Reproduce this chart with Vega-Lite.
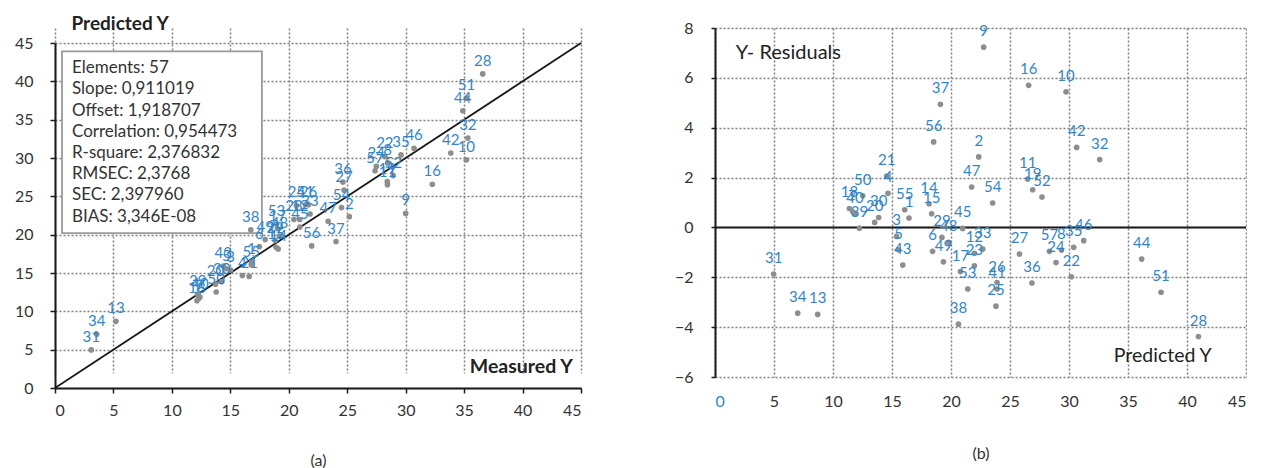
{
  "$schema": "https://vega.github.io/schema/vega-lite/v6.json",
  "background": "white",
  "padding": {"left": 0, "top": 14, "right": 0, "bottom": 0},
  "spacing": 92,
  "config": {
    "font": "Lato",
    "view": {"stroke": null},
    "axis": {
      "labelFont": "Lato",
      "labelFontSize": 16,
      "labelColor": "#333333",
      "labelOverlap": false,
      "gridColor": "#808080",
      "gridDash": [2, 2],
      "gridWidth": 1.5,
      "gridOpacity": 1,
      "domainColor": "#1a1a1a",
      "domainWidth": 2,
      "tickColor": "#1a1a1a",
      "tickWidth": 1.5,
      "titleFont": "Lato",
      "titleColor": "#222222"
    }
  },
  "datasets": {
    "elements": [
      {"id": 1, "measured": 16.82, "predicted": 16.44, "residual": 0.38},
      {"id": 2, "measured": 25.18, "predicted": 22.35, "residual": 2.83},
      {"id": 3, "measured": 15.03, "predicted": 15.39, "residual": -0.36},
      {"id": 4, "measured": 16.03, "predicted": 14.66, "residual": 1.37},
      {"id": 5, "measured": 14.66, "predicted": 15.56, "residual": -0.90},
      {"id": 6, "measured": 17.48, "predicted": 18.44, "residual": -0.96},
      {"id": 7, "measured": 12.30, "predicted": 11.67, "residual": 0.63},
      {"id": 8, "measured": 28.45, "predicted": 29.36, "residual": -0.91},
      {"id": 9, "measured": 30.00, "predicted": 22.77, "residual": 7.23},
      {"id": 10, "measured": 35.19, "predicted": 29.75, "residual": 5.44},
      {"id": 11, "measured": 28.44, "predicted": 26.50, "residual": 1.94},
      {"id": 12, "measured": 20.94, "predicted": 21.98, "residual": -1.04},
      {"id": 13, "measured": 5.21, "predicted": 8.70, "residual": -3.49},
      {"id": 14, "measured": 19.09, "predicted": 18.14, "residual": 0.95},
      {"id": 15, "measured": 18.91, "predicted": 18.36, "residual": 0.55},
      {"id": 16, "measured": 32.28, "predicted": 26.58, "residual": 5.70},
      {"id": 17, "measured": 19.03, "predicted": 20.80, "residual": -1.77},
      {"id": 18, "measured": 12.15, "predicted": 11.39, "residual": 0.76},
      {"id": 19, "measured": 28.43, "predicted": 26.92, "residual": 1.51},
      {"id": 20, "measured": 13.73, "predicted": 13.53, "residual": 0.20},
      {"id": 21, "measured": 16.61, "predicted": 14.55, "residual": 2.06},
      {"id": 22, "measured": 28.22, "predicted": 30.20, "residual": -1.98},
      {"id": 23, "measured": 20.44, "predicted": 21.98, "residual": -1.54},
      {"id": 24, "measured": 27.49, "predicted": 28.90, "residual": -1.41},
      {"id": 25, "measured": 20.65, "predicted": 23.81, "residual": -3.16},
      {"id": 26, "measured": 21.69, "predicted": 23.90, "residual": -2.21},
      {"id": 27, "measured": 24.73, "predicted": 25.80, "residual": -1.07},
      {"id": 28, "measured": 36.59, "predicted": 40.97, "residual": -4.38},
      {"id": 29, "measured": 18.83, "predicted": 19.23, "residual": -0.40},
      {"id": 30, "measured": 14.27, "predicted": 13.87, "residual": 0.40},
      {"id": 31, "measured": 3.10, "predicted": 4.97, "residual": -1.87},
      {"id": 32, "measured": 35.32, "predicted": 32.60, "residual": 2.72},
      {"id": 33, "measured": 21.82, "predicted": 22.69, "residual": -0.87},
      {"id": 34, "measured": 3.57, "predicted": 7.01, "residual": -3.44},
      {"id": 35, "measured": 29.60, "predicted": 30.40, "residual": -0.80},
      {"id": 36, "measured": 24.63, "predicted": 26.86, "residual": -2.23},
      {"id": 37, "measured": 24.04, "predicted": 19.10, "residual": 4.94},
      {"id": 38, "measured": 16.75, "predicted": 20.63, "residual": -3.88},
      {"id": 39, "measured": 12.21, "predicted": 12.24, "residual": -0.03},
      {"id": 40, "measured": 12.40, "predicted": 11.86, "residual": 0.54},
      {"id": 41, "measured": 21.43, "predicted": 23.90, "residual": -2.47},
      {"id": 42, "measured": 33.86, "predicted": 30.65, "residual": 3.21},
      {"id": 43, "measured": 14.40, "predicted": 15.91, "residual": -1.51},
      {"id": 44, "measured": 34.89, "predicted": 36.16, "residual": -1.27},
      {"id": 45, "measured": 20.95, "predicted": 20.99, "residual": -0.04},
      {"id": 46, "measured": 30.72, "predicted": 31.25, "residual": -0.53},
      {"id": 47, "measured": 23.37, "predicted": 21.75, "residual": 1.62},
      {"id": 48, "measured": 19.21, "predicted": 19.81, "residual": -0.60},
      {"id": 49, "measured": 17.98, "predicted": 19.36, "residual": -1.38},
      {"id": 50, "measured": 13.79, "predicted": 12.52, "residual": 1.27},
      {"id": 51, "measured": 35.20, "predicted": 37.80, "residual": -2.60},
      {"id": 52, "measured": 28.93, "predicted": 27.71, "residual": 1.22},
      {"id": 53, "measured": 18.95, "predicted": 21.42, "residual": -2.47},
      {"id": 54, "measured": 24.51, "predicted": 23.53, "residual": 0.98},
      {"id": 55, "measured": 16.79, "predicted": 16.08, "residual": 0.71},
      {"id": 56, "measured": 21.96, "predicted": 18.53, "residual": 3.43},
      {"id": 57, "measured": 27.38, "predicted": 28.34, "residual": -0.96}
    ]
  },
  "hconcat": [
    {
      "width": 526,
      "height": 360,
      "layer": [
        {
          "data": {"name": "elements"},
          "mark": {"type": "point", "opacity": 0},
          "encoding": {
            "x": {
              "field": "measured", "type": "quantitative",
              "scale": {"domain": [0, 45], "nice": false, "zero": false},
              "axis": {
                "values": [0, 5, 10, 15, 20, 25, 30, 35, 40, 45], "tickCount": 20, "format": "d", "labelOverlap": false,
                "title": "(a)", "titleFontSize": 16, "titleFontWeight": "normal", "titleColor": "#333333",
                "titlePadding": 34, "tickSize": 5, "labelPadding": 9, "grid": true
              }
            },
            "y": {
              "field": "predicted", "type": "quantitative",
              "scale": {"domain": [0, 45], "nice": false, "zero": false, "range": [360, 15]},
              "axis": {
                "values": [0, 5, 10, 15, 20, 25, 30, 35, 40, 45], "tickCount": 20, "format": "d", "labelOverlap": false,
                "title": "Predicted Y", "titleAngle": 0, "titleAlign": "left", "titleBaseline": "middle",
                "titleX": 16, "titleY": -4.5, "titleFontSize": 19, "titleFontWeight": "bold",
                "tickSize": 5, "labelPadding": 17, "minExtent": 55, "maxExtent": 55, "grid": true
              }
            }
          }
        },
        {
          "data": {"values": [{}]},
          "mark": {"type": "rect", "fill": "white", "stroke": "#9a9a9a", "strokeWidth": 1.8},
          "encoding": {
            "x": {"datum": 0.6, "type": "quantitative", "scale": {"domain": [0, 45], "nice": false}},
            "x2": {"datum": 17.7},
            "y": {"datum": 43.9, "type": "quantitative", "scale": {"domain": [0, 45], "nice": false, "range": [360, 15]}},
            "y2": {"datum": 20.2}
          }
        },
        {
          "data": {"values": [{}]},
          "mark": {
            "type": "text", "align": "left", "baseline": "middle", "fontSize": 17, "color": "#333333",
            "lineHeight": 21.2, "lineBreak": "\n",
            "text": "Elements: 57\nSlope: 0,911019\nOffset: 1,918707\nCorrelation: 0,954473\nR-square: 2,376832\nRMSEC: 2,3768\nSEC: 2,397960\nBIAS: 3,346E-08"
          },
          "encoding": {
            "x": {"datum": 1.45, "type": "quantitative", "scale": {"domain": [0, 45], "nice": false}},
            "y": {"datum": 41.7, "type": "quantitative", "scale": {"domain": [0, 45], "nice": false, "range": [360, 15]}}
          }
        },
        {
          "data": {"values": [{}]},
          "mark": {"type": "rule", "color": "#1a1a1a", "strokeWidth": 1.8},
          "encoding": {
            "x": {"datum": 0, "type": "quantitative", "scale": {"domain": [0, 45], "nice": false}},
            "x2": {"datum": 45},
            "y": {"datum": 0, "type": "quantitative", "scale": {"domain": [0, 45], "nice": false, "range": [360, 15]}},
            "y2": {"datum": 45}
          }
        },
        {
          "data": {"name": "elements"},
          "mark": {"type": "circle", "color": "#8e8e8e", "opacity": 1, "size": 32},
          "encoding": {
            "x": {"field": "measured", "type": "quantitative", "scale": {"domain": [0, 45], "nice": false}},
            "y": {"field": "predicted", "type": "quantitative", "scale": {"domain": [0, 45], "nice": false, "range": [360, 15]}}
          }
        },
        {
          "data": {"name": "elements"},
          "mark": {"type": "text", "color": "#3385c6", "fontSize": 15, "dy": -13, "baseline": "middle"},
          "encoding": {
            "x": {"field": "measured", "type": "quantitative", "scale": {"domain": [0, 45], "nice": false}},
            "y": {"field": "predicted", "type": "quantitative", "scale": {"domain": [0, 45], "nice": false, "range": [360, 15]}},
            "text": {"field": "id", "type": "nominal"}
          }
        },
        {
          "data": {"values": [{}]},
          "mark": {"type": "text", "text": "Measured Y", "align": "right", "baseline": "middle", "fontSize": 19.5, "fontWeight": "bold", "color": "#222222"},
          "encoding": {
            "x": {"datum": 44.3, "type": "quantitative", "scale": {"domain": [0, 45], "nice": false}},
            "y": {"datum": 2.8, "type": "quantitative", "scale": {"domain": [0, 45], "nice": false, "range": [360, 15]}}
          }
        }
      ]
    },
    {
      "width": 531,
      "height": 349,
      "layer": [
        {
          "data": {"name": "elements"},
          "mark": {"type": "point", "opacity": 0},
          "encoding": {
            "x": {
              "field": "predicted", "type": "quantitative",
              "scale": {"domain": [0, 45], "nice": false, "zero": false},
              "axis": {
                "values": [0, 5, 10, 15, 20, 25, 30, 35, 40, 45], "tickCount": 20, "format": "d", "labelOverlap": false,
                "title": "(b)", "titleFontSize": 16, "titleFontWeight": "normal", "titleColor": "#333333",
                "titlePadding": 36, "domain": false, "ticks": false, "labelPadding": 16, "grid": true,
                "labelColor": {"condition": {"test": "datum.value === 0", "value": "#3385c6"}, "value": "#333333"}
              }
            },
            "y": {
              "field": "residual", "type": "quantitative",
              "scale": {"domain": [-6, 8], "nice": false, "zero": false},
              "axis": {
                "values": [-6, -4, -2, 0, 2, 4, 6, 8], "tickCount": 20, "format": "d", "labelOverlap": false,
                "title": null, "tickSize": 4, "labelPadding": 18, "minExtent": 40, "maxExtent": 40, "grid": true
              }
            }
          }
        },
        {
          "data": {"values": [{}]},
          "mark": {"type": "rule", "color": "#1a1a1a", "strokeWidth": 2},
          "encoding": {
            "y": {"datum": 0, "type": "quantitative", "scale": {"domain": [-6, 8], "nice": false}}
          }
        },
        {
          "data": {"name": "elements"},
          "mark": {"type": "circle", "color": "#8e8e8e", "opacity": 1, "size": 32},
          "encoding": {
            "x": {"field": "predicted", "type": "quantitative", "scale": {"domain": [0, 45], "nice": false}},
            "y": {"field": "residual", "type": "quantitative", "scale": {"domain": [-6, 8], "nice": false}}
          }
        },
        {
          "data": {"name": "elements"},
          "mark": {"type": "text", "color": "#3385c6", "fontSize": 15, "dy": -16, "baseline": "middle"},
          "encoding": {
            "x": {"field": "predicted", "type": "quantitative", "scale": {"domain": [0, 45], "nice": false}},
            "y": {"field": "residual", "type": "quantitative", "scale": {"domain": [-6, 8], "nice": false}},
            "text": {"field": "id", "type": "nominal"}
          }
        },
        {
          "data": {"values": [{}]},
          "mark": {"type": "text", "text": "Y- Residuals", "align": "left", "baseline": "middle", "fontSize": 20, "color": "#222222"},
          "encoding": {
            "x": {"datum": 1.75, "type": "quantitative", "scale": {"domain": [0, 45], "nice": false}},
            "y": {"datum": 7.0, "type": "quantitative", "scale": {"domain": [-6, 8], "nice": false}}
          }
        },
        {
          "data": {"values": [{}]},
          "mark": {"type": "text", "text": "Predicted Y", "align": "right", "baseline": "middle", "fontSize": 19.5, "color": "#222222"},
          "encoding": {
            "x": {"datum": 42.1, "type": "quantitative", "scale": {"domain": [0, 45], "nice": false}},
            "y": {"datum": -5.15, "type": "quantitative", "scale": {"domain": [-6, 8], "nice": false}}
          }
        }
      ]
    }
  ]
}
